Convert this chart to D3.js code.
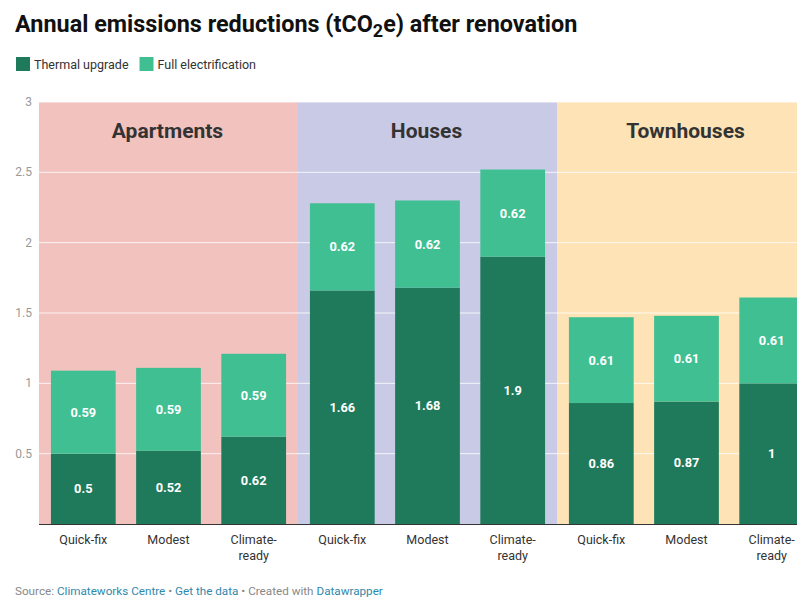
<!DOCTYPE html>
<html>
<head>
<meta charset="utf-8">
<script src="https://cdn.jsdelivr.net/npm/d3@7"></script>
<style>
  body { margin: 0; background: #fff; font-family: Roboto, "Noto Sans", sans-serif; }
  svg { display: block; }
</style>
</head>
<body>
<div id="chart"></div>
<script>
// data
var groups = ["Apartments", "Houses", "Townhouses"];
var options = ["Quick-fix", "Modest", "Climate-ready"];
var thermal = [0.5, 0.52, 0.62, 1.66, 1.68, 1.9, 0.86, 0.87, 1];
var electrification = [0.59, 0.59, 0.59, 0.62, 0.62, 0.62, 0.61, 0.61, 0.61];
var yTicks = [0.5, 1, 1.5, 2, 2.5, 3];
var bandColors = ["#f2c2bf", "#c9cbe6", "#fde3b5"];
var seriesNames = ["Thermal upgrade", "Full electrification"];
var seriesColors = ["#1f7a5b", "#40bf93"];

var width = 800, height = 615;
var left = 39, groupWidth = 259, visibleRight = 797;
var plotTop = 102, plotBottom = 524;

var svg = d3.select("#chart").append("svg")
    .attr("width", width)
    .attr("height", height);

svg.append("defs").append("clipPath").attr("id", "plotclip")
  .append("rect").attr("x", left).attr("y", 0)
  .attr("width", visibleRight - left).attr("height", height);

// title
var title = svg.append("text")
    .attr("x", 15).attr("y", 32)
    .style("font-size", "23.4px").style("font-weight", 700).style("fill", "#111");
title.append("tspan").text("Annual emissions reductions (tCO");
title.append("tspan").text("2").attr("dy", 5).style("font-size", "18px");
title.append("tspan").text("e) after renovation").attr("dy", -5);

// legend
var lx = 16;
seriesNames.forEach(function(name, i) {
    svg.append("rect").attr("x", lx).attr("y", 57).attr("width", 14).attr("height", 14)
        .attr("fill", seriesColors[i]);
    var t = svg.append("text").attr("x", lx + 18).attr("y", 68.5)
        .style("font-size", "12.5px").style("fill", "#333").text(name);
    lx += 18 + t.node().getComputedTextLength() + 11;
});

var y = d3.scaleLinear().domain([0, 3]).range([plotBottom, plotTop]);

var gx = d3.scaleBand().domain(groups).range([left, left + 3 * groupWidth]);
var bx = d3.scaleBand().domain(options).range([0, groupWidth])
    .paddingInner(0.24).paddingOuter(0.14);

var plot = svg.append("g").attr("clip-path", "url(#plotclip)");

// background bands
plot.selectAll("rect.band").data(groups).enter().append("rect")
    .attr("class", "band")
    .attr("x", function(d) { return gx(d); })
    .attr("y", y(3))
    .attr("width", gx.bandwidth())
    .attr("height", y(0) - y(3))
    .attr("fill", function(d, i) { return bandColors[i]; });

// grid lines
plot.selectAll("line.grid").data(yTicks).enter().append("line")
    .attr("x1", left).attr("x2", visibleRight)
    .attr("y1", function(d) { return y(d); })
    .attr("y2", function(d) { return y(d); })
    .attr("stroke", "#fff").attr("stroke-opacity", 0.8).attr("stroke-width", 1);

// group labels
plot.selectAll("text.glabel").data(groups).enter().append("text")
    .attr("x", function(d) { return gx(d) + gx.bandwidth() / 2 - 1; })
    .attr("y", 138)
    .attr("text-anchor", "middle")
    .style("font-size", "21px").style("font-weight", 700).style("fill", "#333")
    .text(function(d) { return d; });

// bars
var bars = [];
thermal.forEach(function(v, i) {
    var g = groups[Math.floor(i / 3)], o = options[i % 3];
    bars.push({ g: g, o: o, y0: 0, y1: v, v: v, s: 0 });
    bars.push({ g: g, o: o, y0: v, y1: v + electrification[i], v: electrification[i], s: 1 });
});

function barX(d) { return gx(d.g) + bx(d.o); }

plot.selectAll("rect.bar").data(bars).enter().append("rect")
    .attr("x", barX)
    .attr("y", function(d) { return y(d.y1); })
    .attr("width", bx.bandwidth())
    .attr("height", function(d) { return y(d.y0) - y(d.y1); })
    .attr("fill", function(d) { return seriesColors[d.s]; });

plot.selectAll("text.val").data(bars).enter().append("text")
    .attr("x", function(d) { return barX(d) + bx.bandwidth() / 2; })
    .attr("y", function(d) { return (y(d.y0) + y(d.y1)) / 2 + 4.5; })
    .attr("text-anchor", "middle")
    .style("font-size", "12.8px").style("font-weight", 700).style("fill", "#fff")
    .text(function(d) { return d.v; });

// baseline
svg.append("line").attr("x1", left).attr("x2", visibleRight)
    .attr("y1", plotBottom + 0.5).attr("y2", plotBottom + 0.5)
    .attr("stroke", "#333").attr("stroke-width", 1.2);

// y tick labels
svg.selectAll("text.ytick").data(yTicks).enter().append("text")
    .attr("x", 32).attr("y", function(d) { return y(d) + 4; })
    .attr("text-anchor", "end")
    .style("font-size", "12px").style("fill", "#999")
    .text(function(d) { return d; });

// x labels
bars.filter(function(d) { return d.s === 0; }).forEach(function(d) {
    var cx = barX(d) + bx.bandwidth() / 2;
    var lines = d.o === "Climate-ready" ? ["Climate-", "ready"] : [d.o];
    var t = svg.append("text").attr("text-anchor", "middle")
        .style("font-size", "12.5px").style("fill", "#333");
    lines.forEach(function(l, j) {
        t.append("tspan").attr("x", cx).attr("y", 544 + j * 16).text(l);
    });
});

// footer
var foot = svg.append("text").attr("x", 15).attr("y", 595)
    .style("font-size", "11.7px").style("fill", "#888");
foot.append("tspan").text("Source: ");
foot.append("tspan").text("Climateworks Centre").style("fill", "#3089ad");
foot.append("tspan").text(" \u2022 ");
foot.append("tspan").text("Get the data").style("fill", "#3089ad");
foot.append("tspan").text(" \u2022 Created with ");
foot.append("tspan").text("Datawrapper").style("fill", "#3089ad");
</script>
</body>
</html>
